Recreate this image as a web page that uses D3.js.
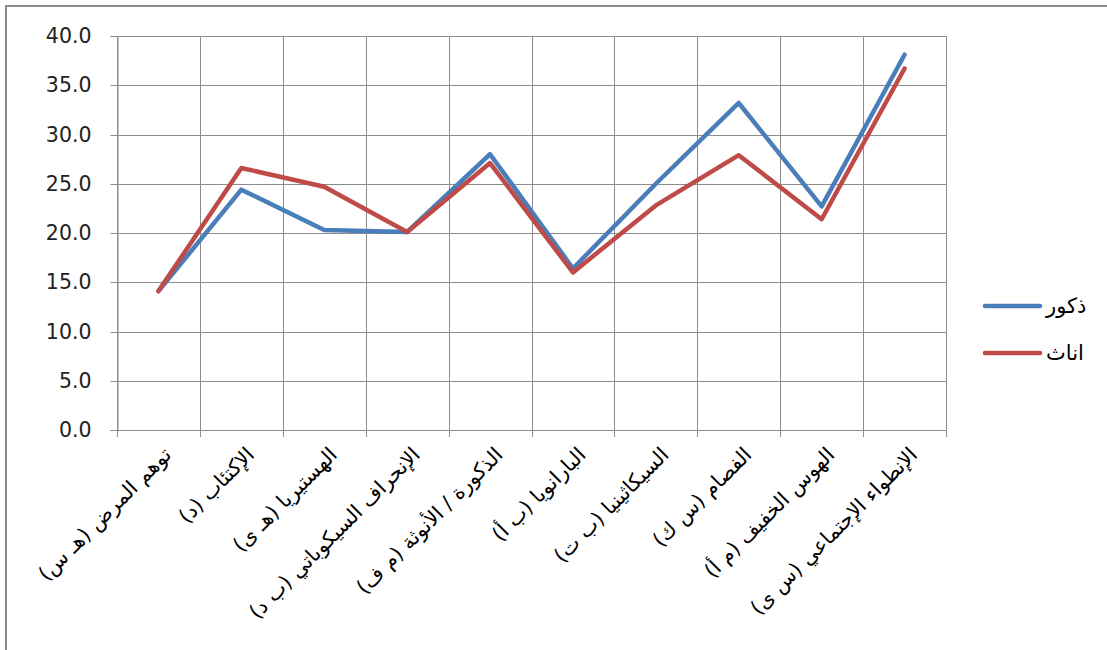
<!DOCTYPE html>
<html>
<head>
<meta charset="utf-8">
<script src="https://cdn.jsdelivr.net/npm/d3@7"></script>
<style>
  body { margin: 0; background: #fff; }
  svg { display: block; }
</style>
</head>
<body>
<div id="app"></div>
<script>
const categories = [
  "توهم المرض (هـ س)",
  "الإكتئاب (د)",
  "الهستيريا (هـ ى)",
  "الإنحراف السيكوباتي (ب د)",
  "الذكورة / الأنوثة (م ف)",
  "البارانويا (ب أ)",
  "السيكاثينيا (ب ت)",
  "الفصام (س ك)",
  "الهوس الخفيف (م أ)",
  "الإنطواء الإجتماعي (س ى)"
];
const males = [14.1, 24.4, 20.3, 20.1, 28.0, 16.4, 25.0, 33.2, 22.7, 38.1];
const females = [14.1, 26.6, 24.7, 20.1, 27.1, 16.0, 22.8, 27.9, 21.4, 36.7];
const seriesNames = ["ذكور", "اناث"];
const seriesColors = ["#4a7ebb", "#be4b48"];
const yTicks = [0, 5, 10, 15, 20, 25, 30, 35, 40];

const w = 1107;
const h = 650;
const margin = { left: 117, top: 36, right: 161, bottom: 220 };
const gridColor = "#8c8c8c";

const svg = d3.select("#app").append("svg").attr("width", w).attr("height", h);

// outer frame (only top and left are visible in the window)
svg.append("path")
  .attr("d", `M6,${h + 5}V6H${w + 5}`)
  .attr("fill", "none")
  .attr("stroke", gridColor)
  .attr("stroke-width", 2);

const xScale = d3.scaleBand()
  .domain(categories)
  .range([margin.left, w - margin.right]);

const yScale = d3.scaleLinear()
  .domain([0, 40])
  .range([h - margin.bottom, margin.top]);

// horizontal gridlines
svg.append("g")
  .selectAll("line")
  .data(yTicks)
  .join("line")
  .attr("x1", margin.left)
  .attr("x2", w - margin.right)
  .attr("y1", (d) => Math.round(yScale(d)) + 0.5)
  .attr("y2", (d) => Math.round(yScale(d)) + 0.5)
  .attr("stroke", gridColor);

// vertical gridlines at category boundaries
const bounds = categories.map((c) => xScale(c)).concat([xScale.range()[1]]);
svg.append("g")
  .selectAll("line")
  .data(bounds)
  .join("line")
  .attr("x1", (d) => Math.round(d) + 0.5)
  .attr("x2", (d) => Math.round(d) + 0.5)
  .attr("y1", yScale(40))
  .attr("y2", yScale(0) + 7)
  .attr("stroke", gridColor);

//y-axis
const yAxis = svg.append("g")
  .attr("transform", `translate(${margin.left + 0.5},0)`)
  .call(d3.axisLeft(yScale).tickValues(yTicks).tickFormat(d3.format(".1f")).tickSize(7).tickPadding(19));
yAxis.select(".domain").attr("stroke", gridColor);
yAxis.selectAll(".tick line").attr("stroke", gridColor);
yAxis.selectAll("text")
  .attr("font-family", "DejaVu Sans")
  .attr("font-size", 20.5)
  .attr("fill", "#222");
yAxis.selectAll(".tick").attr("transform", (d) => `translate(0,${Math.round(yScale(d)) + 0.5})`);

//x labels, rotated
svg.append("g")
  .selectAll("text")
  .data(categories)
  .join("text")
  .attr("transform", (d) => `translate(${xScale(d) + xScale.bandwidth() / 2 + 9},${yScale(0) + 21}) rotate(-45)`)
  .attr("direction", "rtl")
  .attr("text-anchor", "start")
  .attr("dy", "0.35em")
  .attr("font-family", "DejaVu Sans")
  .attr("font-size", 20.5)
  .attr("fill", "#000")
  .text((d) => d);

// lines
const line = d3.line()
  .x((d, i) => xScale(categories[i]) + xScale.bandwidth() / 2)
  .y((d) => yScale(d));

[males, females].forEach((vals, i) => {
  svg.append("path")
    .datum(vals)
    .attr("d", line)
    .attr("fill", "none")
    .attr("stroke", seriesColors[i])
    .attr("stroke-width", 4.5)
    .attr("stroke-linejoin", "round")
    .attr("stroke-linecap", "round");
});

// legend
const legend = svg.append("g").attr("transform", "translate(985,306)");
seriesNames.forEach((name, i) => {
  const g = legend.append("g").attr("transform", `translate(0,${i * 47})`);
  g.append("line")
    .attr("x1", 0)
    .attr("x2", 55)
    .attr("stroke", seriesColors[i])
    .attr("stroke-width", 4.5)
    .attr("stroke-linecap", "round");
  g.append("text")
    .attr("x", 61)
    .attr("dy", "0.35em")
    .attr("direction", "rtl")
    .attr("text-anchor", "end")
    .attr("font-family", "DejaVu Sans")
    .attr("font-size", 21)
    .text(name);
});
</script>
</body>
</html>
